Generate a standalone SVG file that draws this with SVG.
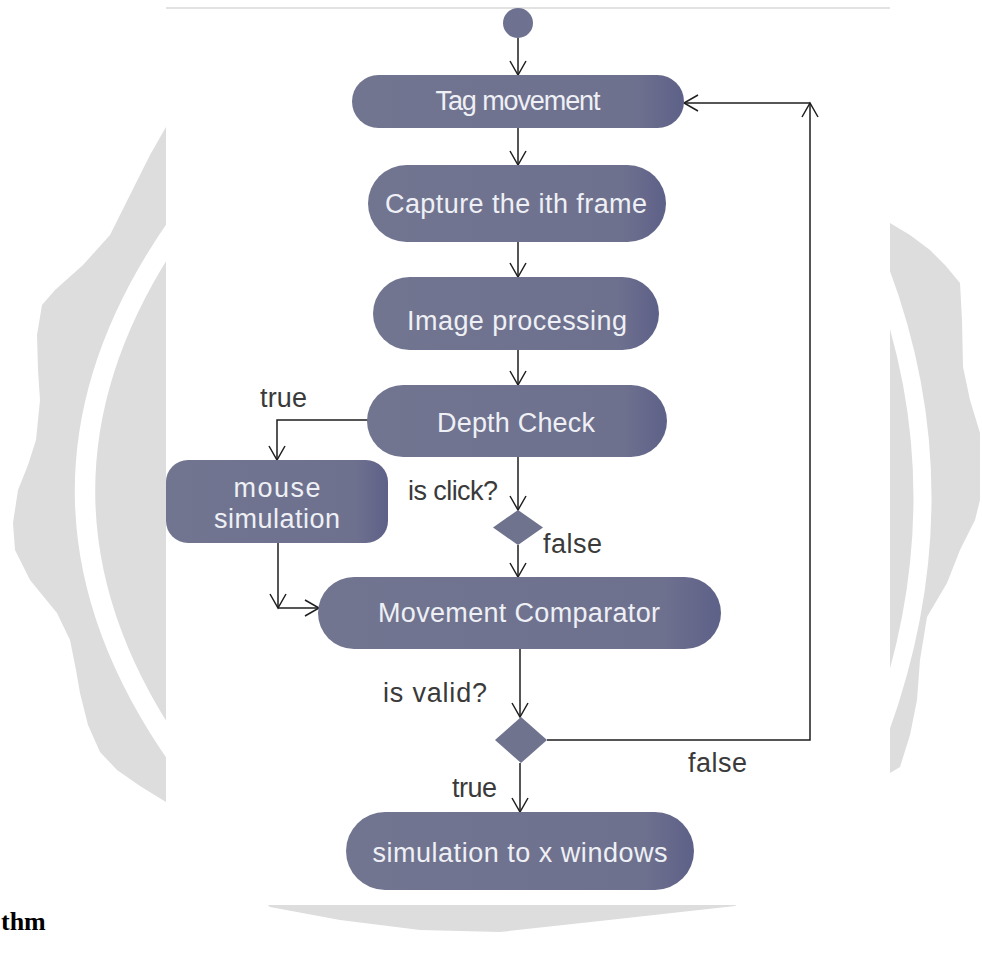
<svg xmlns="http://www.w3.org/2000/svg" width="982" height="955" viewBox="0 0 982 955">
<style>
.node{fill:url(#ng)}
.nt{font-family:"Liberation Sans",Arial,sans-serif;font-size:27px;fill:#eef0f5;text-anchor:middle}
.lb{font-family:"Liberation Sans",Arial,sans-serif;font-size:27px;fill:#3a3a3a}
.cn{fill:none;stroke:#1e1e1e;stroke-width:1.5}
.dm{fill:#6f738e}
</style>
<defs>
<linearGradient id="ng" x1="0" y1="0" x2="1" y2="0">
<stop offset="0" stop-color="#727590"/>
<stop offset="0.85" stop-color="#6e718e"/>
<stop offset="1" stop-color="#5e6188"/>
</linearGradient>
<marker id="arr" markerUnits="userSpaceOnUse" viewBox="-16 -10 18 20" refX="0" refY="0" markerWidth="18" markerHeight="20" orient="auto">
<path d="M-14,-8 L0,0 L-14,8" fill="none" stroke="#1e1e1e" stroke-width="1.5"/>
</marker>
</defs>
<rect width="982" height="955" fill="#ffffff"/>
<g id="watermark">
<path fill="#dddddd" d="M166,127 L150,155 L130,195 L110,235 L83,265 L55,290 L42,305 L37,335 L38,370 L40,400 L36,440 L28,465 L18,490 L13,523 L15,550 L30,580 L57,613 L70,640 L76,670 L80,693 L88,725 L100,752 L117,770 L140,786 L166,802 L200,840 L240,880 L270,907 L340,920 L420,930 L500,932 L600,921 L735,906 L790,860 L850,810 L890,773 L900,767 L910,735 L917,700 L920,660 L927,617 L947,583 L960,550 L975,520 L980,500 L980,470 L980,433 L970,400 L963,367 L962,320 L960,283 L945,265 L930,250 L910,235 L890,223 Z"/>
<path d="M180,222 Q-10,491 180,760" fill="none" stroke="#ffffff" stroke-width="20"/>
<path d="M880,270 Q965,495 880,730" fill="none" stroke="#ffffff" stroke-width="18"/>
<rect x="166" y="8" width="724" height="897" fill="#ffffff"/>
<line x1="166" y1="8" x2="890" y2="8" stroke="#e2e2e2" stroke-width="2"/>
</g>
<g id="connectors">
<path class="cn" d="M518,38 V75" marker-end="url(#arr)"/>
<path class="cn" d="M518,128 V165" marker-end="url(#arr)"/>
<path class="cn" d="M518,242 V277" marker-end="url(#arr)"/>
<path class="cn" d="M518,350 V385" marker-end="url(#arr)"/>
<path class="cn" d="M368,420 H277 V460" marker-end="url(#arr)"/>
<path class="cn" d="M518,457 V510" marker-end="url(#arr)"/>
<path class="cn" d="M518,545 V577" marker-end="url(#arr)"/>
<path class="cn" d="M278,543 V608" marker-end="url(#arr)"/>
<path class="cn" d="M278,608 H319" marker-end="url(#arr)"/>
<path class="cn" d="M520,649 V717" marker-end="url(#arr)"/>
<path class="cn" d="M520,763 V812" marker-end="url(#arr)"/>
<path class="cn" d="M547,740 H810 V103" marker-end="url(#arr)"/>
<path class="cn" d="M810,103 H684" marker-end="url(#arr)"/>
</g>
<g id="start"><circle cx="518" cy="23" r="15" fill="#6e7290"/></g>
<g id="tag-movement">
<rect class="node" x="352" y="75" width="332" height="53" rx="26.5"/>
<text class="nt" x="518" y="110" font-size="25" textLength="165">Tag movement</text>
</g>
<g id="capture">
<rect class="node" x="368" y="165" width="298" height="77" rx="38.5"/>
<text class="nt" x="516" y="213" textLength="262">Capture the ith frame</text>
</g>
<g id="image-processing">
<rect class="node" x="373" y="277" width="286" height="73" rx="36.5"/>
<text class="nt" x="517" y="330" textLength="220">Image processing</text>
</g>
<g id="depth-check">
<rect class="node" x="367" y="385" width="300" height="72" rx="36"/>
<text class="nt" x="516" y="432" textLength="158">Depth Check</text>
</g>
<g id="mouse-simulation">
<rect class="node" x="166" y="460" width="222" height="83" rx="22"/>
<text class="nt" x="277" y="497" textLength="87">mouse</text>
<text class="nt" x="277" y="528" textLength="126">simulation</text>
</g>
<g id="click-decision">
<polygon class="dm" points="518,510 543,527.5 518,545 493,527.5"/>
</g>
<g id="movement-comparator">
<rect class="node" x="318" y="577" width="403" height="72" rx="36"/>
<text class="nt" x="519" y="622" textLength="282">Movement Comparator</text>
</g>
<g id="valid-decision">
<polygon class="dm" points="521,717 547,740 521,763 495,740"/>
</g>
<g id="simulation-x">
<rect class="node" x="346" y="812" width="348" height="78" rx="39"/>
<text class="nt" x="520" y="862" textLength="295">simulation to x windows</text>
</g>
<g id="labels">
<text class="lb" x="260" y="407" textLength="47">true</text>
<text class="lb" x="408" y="500" textLength="90">is click?</text>
<text class="lb" x="543" y="553" textLength="59">false</text>
<text class="lb" x="383" y="702" textLength="104">is valid?</text>
<text class="lb" x="688" y="772" textLength="59">false</text>
<text class="lb" x="452" y="797" textLength="45">true</text>
</g>
<text x="1" y="930" font-family="'Liberation Serif','Times New Roman',serif" font-weight="bold" font-size="26" fill="#000">thm</text>
</svg>
